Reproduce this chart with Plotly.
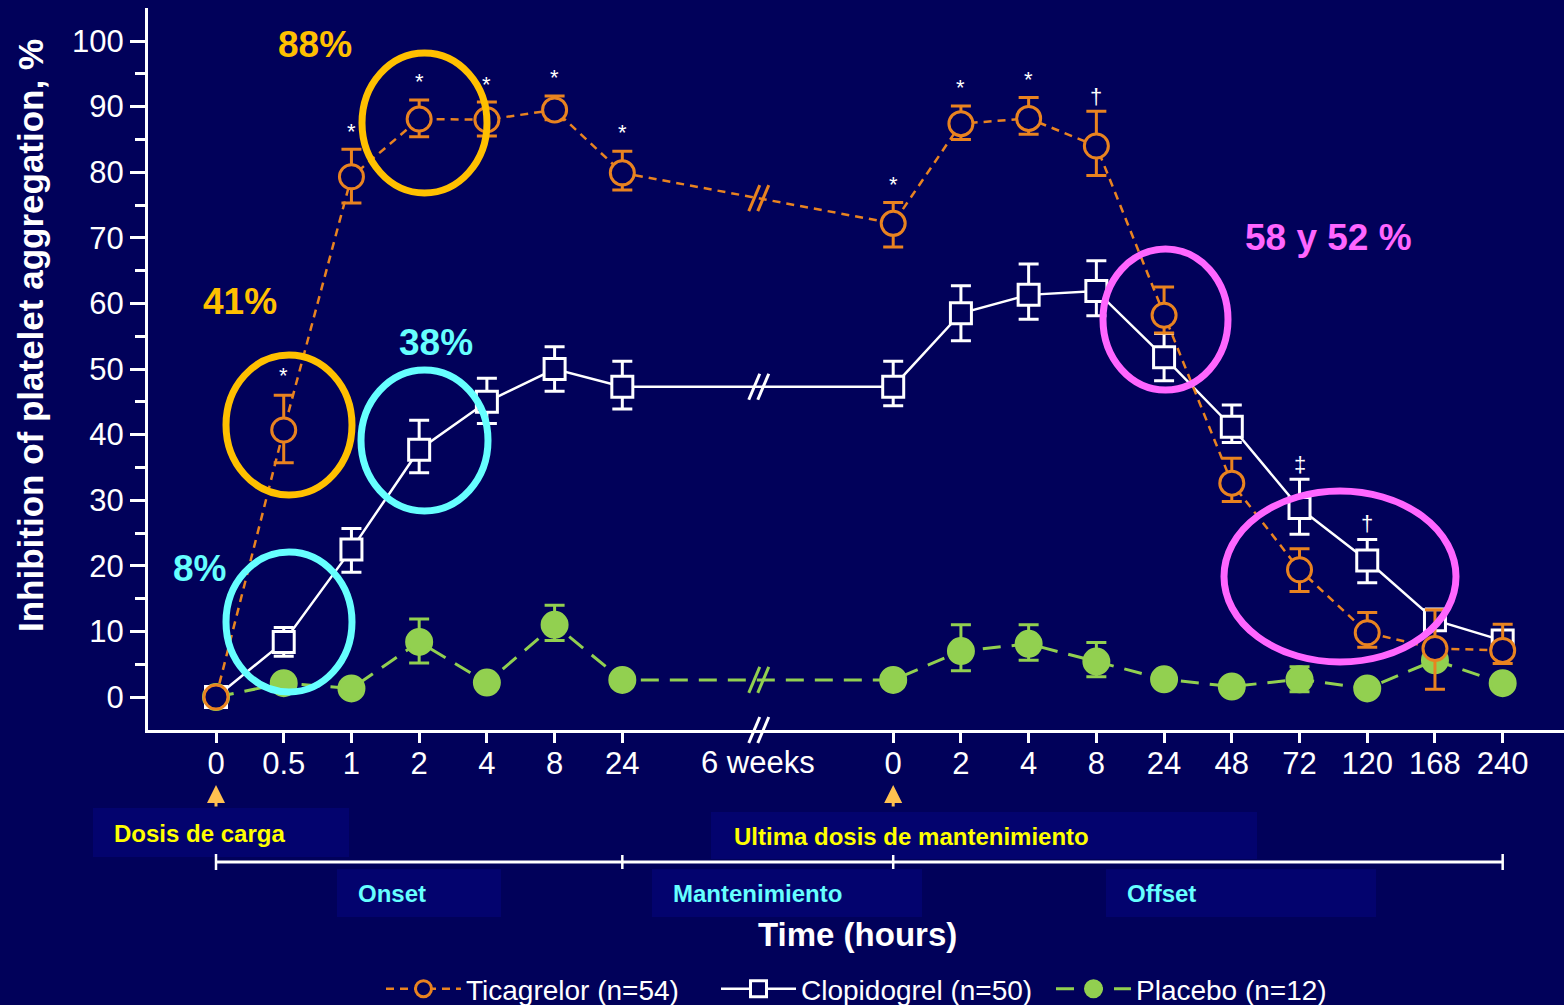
import plotly.graph_objects as go

# ---------------- data ----------------
tick_labels = ["0", "0.5", "1", "2", "4", "8", "24", "0", "2", "4", "8", "24", "48", "72", "120", "168", "240"]
tick_pos = [0, 1, 2, 3, 4, 5, 6, 10, 11, 12, 13, 14, 15, 16, 17, 18, 19]
break_pos = 8
break_label = "6 weeks"

tica = [0, 40.7, 79.3, 88.1, 88.0, 89.5, 79.9, 72.2, 87.4, 88.2, 84.0, 58.2, 32.6, 19.4, 9.8, 7.4, 7.1]
tica_up = [0, 5.3, 4.2, 2.9, 2.7, 2.1, 3.3, 3.2, 2.7, 3.2, 5.3, 4.3, 3.8, 3.2, 3.1, 5.9, 4.0]
tica_dn = [0, 5.0, 4.0, 2.7, 2.5, 1.5, 2.6, 3.6, 2.4, 2.4, 4.5, 2.7, 2.8, 3.3, 2.2, 6.2, 2.0]

clop = [0, 8.4, 22.5, 37.7, 45.0, 50.0, 47.3, 47.3, 58.5, 61.3, 61.9, 51.8, 41.2, 28.8, 20.8, 11.7, 8.6]
clop_up = [0, 2.2, 3.2, 4.5, 3.6, 3.4, 3.9, 3.9, 4.2, 4.7, 4.6, 3.6, 3.3, 4.4, 3.2, 1.7, 1.5]
clop_dn = [0, 2.2, 3.5, 3.5, 3.3, 3.4, 3.4, 2.9, 4.2, 3.7, 3.8, 3.6, 2.4, 4.0, 3.4, 1.5, 1.5]

plac = [0, 2.1, 1.3, 8.4, 2.2, 11.0, 2.6, 2.6, 7.0, 8.1, 5.4, 2.7, 1.6, 2.7, 1.3, 5.6, 2.1]
plac_up = [0, 0.5, 0.5, 3.5, 0.5, 3.0, 0.5, 0.5, 4.0, 2.9, 2.9, 0.5, 0.5, 1.9, 0.5, 0.5, 0.5]
plac_dn = [0, 0.5, 0.5, 3.2, 0.5, 2.4, 0.5, 0.5, 3.0, 2.5, 2.3, 0.5, 0.5, 1.9, 0.5, 0.5, 0.5]

series_names = ["Ticagrelor (n=54)", "Clopidogrel (n=50)", "Placebo (n=12)"]

sig_pos = [1, 2, 3, 4, 5, 6, 10, 11, 12, 13, 16, 17]
sig_text = ["*", "*", "*", "*", "*", "*", "*", "*", "*", "†", "‡", "†"]
sig_y = [49.0, 86.2, 93.8, 93.3, 94.4, 86.0, 78.1, 92.9, 94.1, 91.5, 35.5, 26.4]

pct_labels = ["88%", "41%", "38%", "8%", "58 y 52 %"]

# ---------------- style ----------------
BG = "#01015A"
BOX = "#03036E"
ORANGE = "#E98320"
GREEN = "#92D050"
WHITE = "#FFFFFF"
GOLD = "#FFC000"
CYAN = "#66FFFF"
MAGENTA = "#FF66FF"
YELLOW = "#FFFF00"
ARROW = "#FFC050"
FONT = "Liberation Sans, Arial, sans-serif"

# figure is a little taller than the window so the legend box never pushes the margins
W, H = 1564, 1016
L, R, T, B = 148, 0, 8, 286
PW, PH = W - L - R, H - T - B
X0, XSCALE = 216, 67.72       # pixel of index 0, pixels per index
Y0, YSCALE = 697, 6.56        # pixel of value 0, pixels per unit

def px2x(px):
    return (px - X0) / XSCALE

def py2y(py):
    return (Y0 - py) / YSCALE

def py2paper(py):
    return (H - B - py) / PH

def px2paper(px):
    return (px - L) / PW

xr = [px2x(L), px2x(W - R)]
yr = [py2y(H - B), py2y(T)]

fig = go.Figure()

def add_series(y, up, dn, name, color, symbol, size, dash, fill, rank, lw):
    fig.add_trace(go.Scatter(
        x=tick_pos, y=y, name=name, mode="lines+markers",
        line=dict(color=color, width=lw, dash=dash),
        marker=dict(symbol=symbol, size=size, color=fill,
                    line=dict(color=color, width=3)),
        error_y=dict(type="data", symmetric=False, array=up, arrayminus=dn,
                     color=color, thickness=3, width=10),
        legendrank=rank,
    ))

add_series(plac, plac_up, plac_dn, series_names[2], GREEN, "circle", 25, "18px,11px", GREEN, 3, 3)
add_series(clop, clop_up, clop_dn, series_names[1], WHITE, "square", 21, "solid", BG, 2, 2.5)
add_series(tica, tica_up, tica_dn, series_names[0], ORANGE, "circle", 24, "8px,6px", BG, 1, 2.5)

shapes = []
annotations = []

# ---- break marks "//" on the axis and on each line ----
def slashes(xa, ya, yref, color):
    for dx in (0, 9):
        shapes.append(dict(type="line", xref="x", yref=yref,
                           xsizemode="pixel", ysizemode="pixel",
                           xanchor=xa, yanchor=ya,
                           x0=-9 + dx, y0=-13, x1=2 + dx, y1=13,
                           line=dict(color=color, width=3)))

i6, i10 = tick_pos.index(6), tick_pos.index(10)
slashes(break_pos, 0, "paper", WHITE)
slashes(break_pos, (tica[i6] + tica[i10]) / 2, "y", ORANGE)
slashes(break_pos, (clop[i6] + clop[i10]) / 2, "y", WHITE)
slashes(break_pos, (plac[i6] + plac[i10]) / 2, "y", GREEN)

# ---- highlight ellipses ----
ellipses = [  # px x0, x1, py y0, y1, color
    (362, 487, 53, 193, GOLD),
    (226, 352, 355, 495, GOLD),
    (361, 488, 370, 511, CYAN),
    (226, 352, 552, 692, CYAN),
    (1103, 1228, 249, 390, MAGENTA),
    (1224, 1456, 491, 662, MAGENTA),
]
for ex0, ex1, ey0, ey1, col in ellipses:
    shapes.append(dict(type="circle", xref="x", yref="y",
                       x0=px2x(ex0), x1=px2x(ex1), y0=py2y(ey1), y1=py2y(ey0),
                       line=dict(color=col, width=7), layer="above"))

# ---- label boxes below the axis ----
boxes = [  # px x0, x1, py y0, y1
    (93, 349, 808, 857),
    (711, 1257, 812, 859),
    (337, 501, 869, 917),
    (652, 922, 869, 917),
    (1106, 1376, 869, 917),
]
for bx0, bx1, by0, by1 in boxes:
    shapes.append(dict(type="rect", xref="paper", yref="paper",
                       x0=px2paper(bx0), x1=px2paper(bx1),
                       y0=py2paper(by1), y1=py2paper(by0),
                       fillcolor=BOX, line=dict(width=0), layer="below"))

# timeline
shapes.append(dict(type="line", xref="x", yref="paper", x0=0, x1=19,
                   y0=py2paper(862), y1=py2paper(862), line=dict(color=WHITE, width=3)))
for xi, top, bot in [(0, 854, 870), (6, 855, 869), (10, 855, 869), (19, 854, 870)]:
    shapes.append(dict(type="line", xref="x", yref="paper", x0=xi, x1=xi,
                       y0=py2paper(bot), y1=py2paper(top), line=dict(color=WHITE, width=2.5)))

def ann(text, x, y, xref, yref, size, color, bold=False, xanchor="center", **kw):
    annotations.append(dict(text=("<b>%s</b>" % text) if bold else text, x=x, y=y,
                            xref=xref, yref=yref, showarrow=False,
                            font=dict(family=FONT, size=size, color=color),
                            xanchor=xanchor, yanchor="middle", **kw))

ann("Dosis de carga", px2paper(112), py2paper(833), "paper", "paper", 24, YELLOW, True, "left")
ann("Ultima dosis de mantenimiento", px2paper(732), py2paper(836), "paper", "paper", 24, YELLOW, True, "left")
ann("Onset", px2paper(356), py2paper(893), "paper", "paper", 24, CYAN, True, "left")
ann("Mantenimiento", px2paper(671), py2paper(893), "paper", "paper", 24, CYAN, True, "left")
ann("Offset", px2paper(1125), py2paper(893), "paper", "paper", 24, CYAN, True, "left")

# axis titles
ann("Time (hours)", px2paper(858), py2paper(934), "paper", "paper", 33, WHITE, True)
ann("Inhibition of platelet aggregation, %", px2paper(30), py2paper(336), "paper", "paper", 35, WHITE, True,
    textangle=-90)

# "6 weeks" label at the break
ann(break_label, break_pos, py2paper(763), "x", "paper", 31, WHITE)

# significance marks
for xi, t, yv in zip(sig_pos, sig_text, sig_y):
    ann(t, xi, yv, "x", "y", 22, WHITE)

# percentage call-outs
pct_px = [(315, 44, GOLD), (240, 301, GOLD), (436, 342, CYAN), (199, 568, CYAN), (1328, 237, MAGENTA)]
for t, (ppx, ppy, col) in zip(pct_labels, pct_px):
    ann(t, px2x(ppx), py2y(ppy), "x", "y", 37, col, True)

# dosing arrows
for xi in (0, 10):
    annotations.append(dict(x=xi, y=py2paper(785), xref="x", yref="paper",
                            ax=0, ay=23, axref="pixel", ayref="pixel", text="",
                            showarrow=True, arrowhead=2, arrowsize=1.2, arrowwidth=3,
                            arrowcolor=ARROW))

fig.update_layout(
    width=W, height=H, autosize=False,
    margin=dict(l=L, r=R, t=T, b=B, pad=0),
    paper_bgcolor=BG, plot_bgcolor=BG,
    font=dict(family=FONT, color=WHITE, size=30),
    shapes=shapes, annotations=annotations,
    showlegend=True,
    legend=dict(orientation="h", x=px2paper(381), y=py2paper(989),
                xanchor="left", yanchor="middle",
                font=dict(family=FONT, size=28, color=WHITE),
                bgcolor="rgba(0,0,0,0)", itemwidth=75, entrywidth=245,
                tracegroupgap=0),
    xaxis=dict(range=xr, tickmode="array", tickvals=tick_pos, ticktext=tick_labels,
               showline=True, linecolor=WHITE, linewidth=3, ticks="outside",
               ticklen=10, tickwidth=2.5, tickcolor=WHITE, showgrid=False,
               zeroline=False, ticklabelstandoff=-6,
               tickfont=dict(size=31, color=WHITE, family=FONT)),
    yaxis=dict(range=yr, tickmode="array", tickvals=list(range(0, 101, 10)),
               showline=True, linecolor=WHITE, linewidth=3, ticks="outside",
               ticklen=15, tickwidth=2.5, tickcolor=WHITE, showgrid=False,
               zeroline=False, tickfont=dict(size=31, color=WHITE, family=FONT),
               minor=dict(tickvals=list(range(5, 100, 10)), ticks="outside",
                          ticklen=10, tickwidth=2.5, tickcolor=WHITE, showgrid=False)),
)

fig.write_html(
    "out.html",
    config={"responsive": False, "displayModeBar": False},
    post_script="document.body.style.margin='0';document.body.style.padding='0';"
                "document.body.style.overflow='hidden';document.body.style.background='%s';" % BG,
)
